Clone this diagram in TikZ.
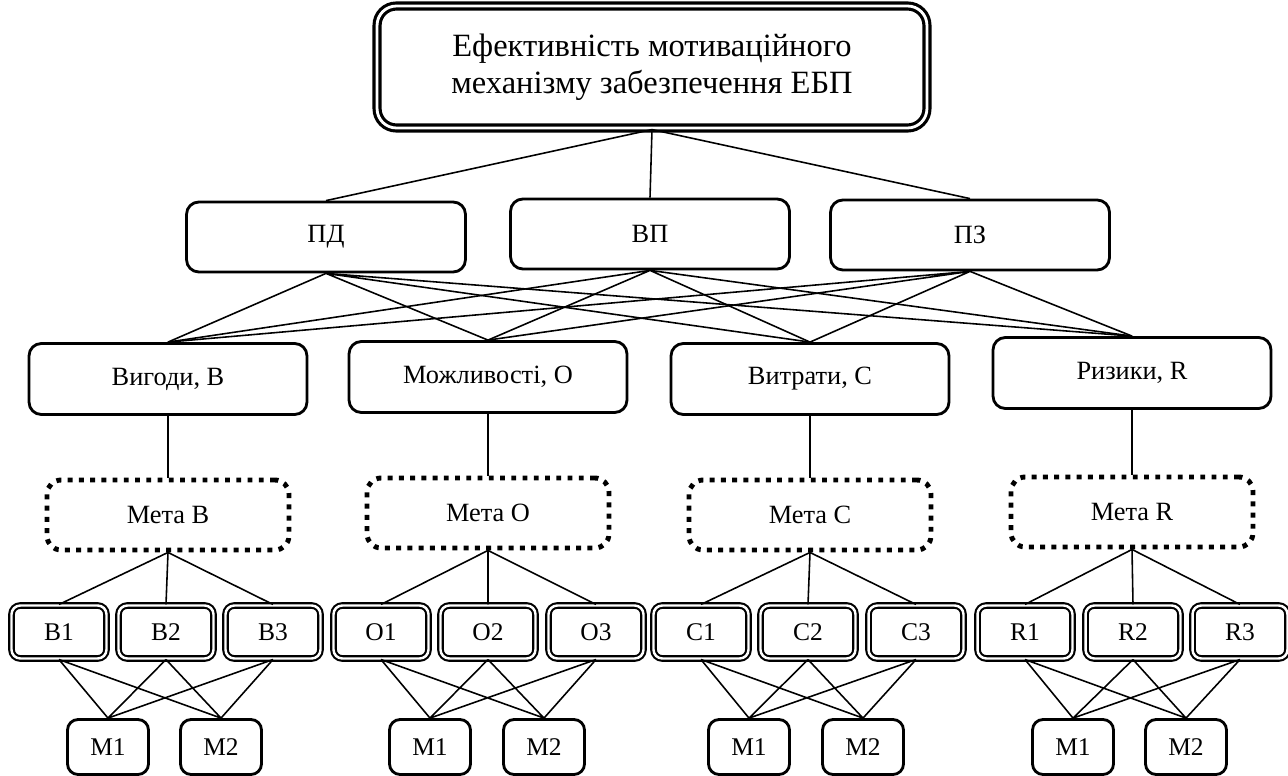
\documentclass[tikz,border=0pt]{standalone}
\usepackage{fontspec}
\setmainfont{Liberation Serif}
\tikzstyle{mainbox} = [rectangle, rounded corners=11pt, minimum width=11cm, minimum height=2.44cm, inner sep=0pt, align=center, draw=black, line width=1.8pt, double, double distance=1.6pt, font=\fontsize{18.5}{21}\selectfont]
\tikzstyle{criterion} = [rectangle, rounded corners=7pt, minimum width=5.58cm, minimum height=1.4cm, text centered, draw=black, line width=1.6pt, font=\fontsize{15}{17}\selectfont]
\tikzstyle{factor} = [criterion, minimum width=5.56cm, minimum height=1.42cm]
\tikzstyle{goal} = [rectangle, rounded corners=8pt, minimum width=4.84cm, minimum height=1.4cm, text centered, draw=black, line width=2.8pt, dash pattern=on 2.8pt off 3.6pt, font=\fontsize{15}{17}\selectfont]
\tikzstyle{subfactor} = [rectangle, rounded corners=5pt, minimum width=1.9cm, minimum height=1.06cm, text centered, draw=black, line width=1.2pt, double, double distance=1.4pt, font=\fontsize{14.5}{16}\selectfont]
\tikzstyle{alt} = [rectangle, rounded corners=6pt, minimum width=1.62cm, minimum height=1.1cm, text centered, draw=black, line width=1.6pt, font=\fontsize{14.5}{16}\selectfont]
\tikzstyle{link} = [line width=0.9pt]
\begin{document}
\begin{tikzpicture}[x=0.02cm, y=-0.02cm]
        \useasboundingbox (0,0) rectangle (1288,776);
        % top level
        \node (top) [mainbox] at (652,67) {Ефективність мотиваційного\\механізму забезпечення ЕБП};
        \node (pd) [criterion] at (326,237) {ПД};
        \node (vp) [criterion] at (650,234) {ВП};
        \node (pz) [criterion] at (970,235) {ПЗ};
        % factors
        \node (vyg) [factor] at (168,379) {Вигоди, В};
        \node (mozh) [factor] at (488,377) {Можливості, О};
        \node (vytr) [factor] at (810,379) {Витрати, С};
        \node (ryz) [factor] at (1132,373) {Ризики, R};
        % goals
        \node (metab) [goal] at (168,515) {Мета В};
        \node (metao) [goal] at (488,513) {Мета О};
        \node (metac) [goal] at (810,515) {Мета С};
        \node (metar) [goal] at (1132,512) {Мета R};
        % subfactors
        \node (b1) [subfactor] at (59,632) {В1};
        \node (b2) [subfactor] at (166,632) {В2};
        \node (b3) [subfactor] at (273,632) {В3};
        \node (o1) [subfactor] at (381,632) {О1};
        \node (o2) [subfactor] at (488,632) {О2};
        \node (o3) [subfactor] at (596,632) {О3};
        \node (c1) [subfactor] at (701,632) {С1};
        \node (c2) [subfactor] at (808,632) {С2};
        \node (c3) [subfactor] at (916,632) {С3};
        \node (r1) [subfactor] at (1025,632) {R1};
        \node (r2) [subfactor] at (1133,632) {R2};
        \node (r3) [subfactor] at (1240,632) {R3};
        % alternatives
        \node (bm1) [alt] at (108,747) {М1};
        \node (bm2) [alt] at (221,747) {М2};
        \node (om1) [alt] at (430,747) {М1};
        \node (om2) [alt] at (544,747) {М2};
        \node (cm1) [alt] at (749,747) {М1};
        \node (cm2) [alt] at (863,747) {М2};
        \node (rm1) [alt] at (1073,747) {М1};
        \node (rm2) [alt] at (1186,747) {М2};
        % links
        \draw [link] (top.south) -- (pd.north) (top.south) -- (vp.north) (top.south) -- (pz.north);
        \draw [link] (pd.south) -- (vyg.north) (pd.south) -- (mozh.north) (pd.south) -- (vytr.north) (pd.south) -- (ryz.north);
        \draw [link] (vp.south) -- (vyg.north) (vp.south) -- (mozh.north) (vp.south) -- (vytr.north) (vp.south) -- (ryz.north);
        \draw [link] (pz.south) -- (vyg.north) (pz.south) -- (mozh.north) (pz.south) -- (vytr.north) (pz.south) -- (ryz.north);
        \draw [link] (vyg) -- (metab);
        \draw [link] (mozh) -- (metao);
        \draw [link] (vytr) -- (metac);
        \draw [link] (ryz) -- (metar);
        \draw [link] (metab.south) -- (b1.north) (metab.south) -- (b2.north) (metab.south) -- (b3.north);
        \draw [link] (metao.south) -- (o1.north) (metao.south) -- (o2.north) (metao.south) -- (o3.north);
        \draw [link] (metac.south) -- (c1.north) (metac.south) -- (c2.north) (metac.south) -- (c3.north);
        \draw [link] (metar.south) -- (r1.north) (metar.south) -- (r2.north) (metar.south) -- (r3.north);
        \draw [link] (b1.south) -- (bm1.north) (b1.south) -- (bm2.north) (b2.south) -- (bm1.north) (b2.south) -- (bm2.north) (b3.south) -- (bm1.north) (b3.south) -- (bm2.north);
        \draw [link] (o1.south) -- (om1.north) (o1.south) -- (om2.north) (o2.south) -- (om1.north) (o2.south) -- (om2.north) (o3.south) -- (om1.north) (o3.south) -- (om2.north);
        \draw [link] (c1.south) -- (cm1.north) (c1.south) -- (cm2.north) (c2.south) -- (cm1.north) (c2.south) -- (cm2.north) (c3.south) -- (cm1.north) (c3.south) -- (cm2.north);
        \draw [link] (r1.south) -- (rm1.north) (r1.south) -- (rm2.north) (r2.south) -- (rm1.north) (r2.south) -- (rm2.north) (r3.south) -- (rm1.north) (r3.south) -- (rm2.north);
      \end{tikzpicture}
\end{document}
